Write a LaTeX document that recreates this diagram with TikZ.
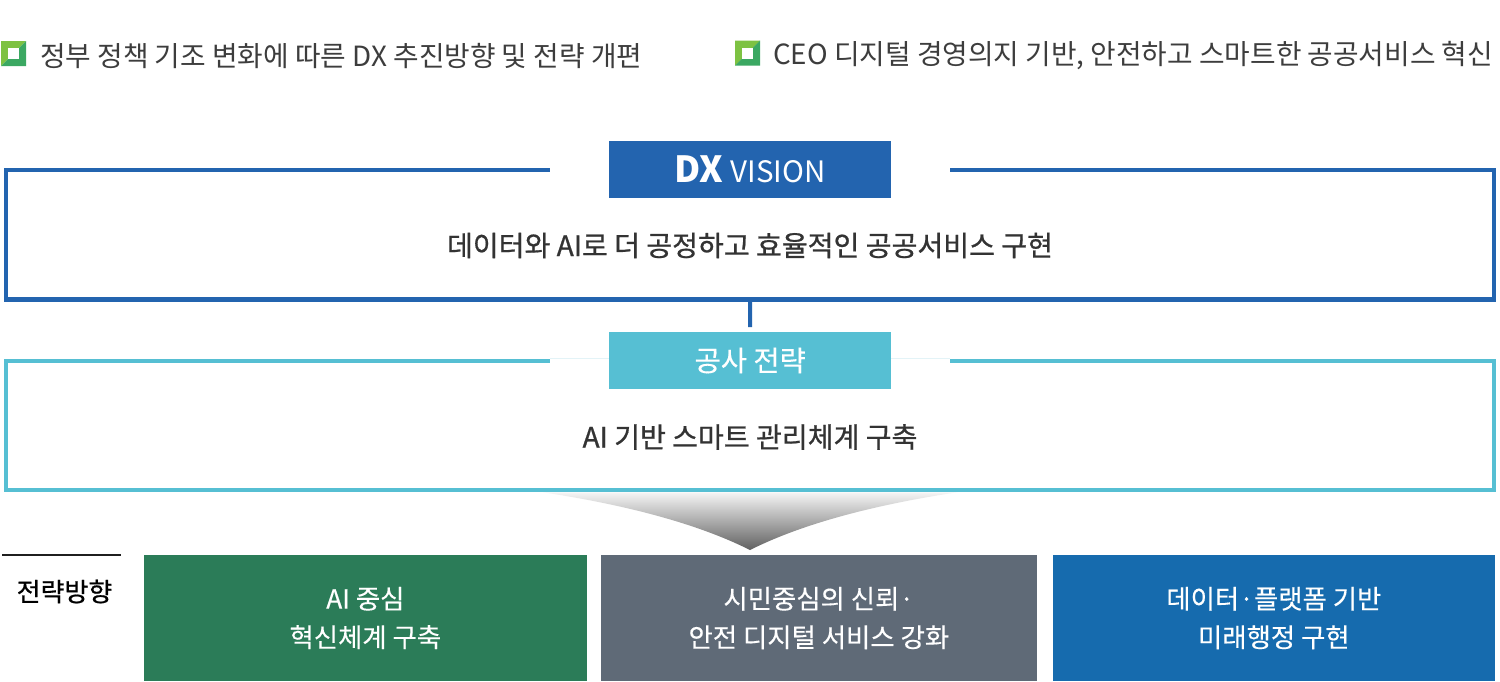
\documentclass[tikz,border=0pt]{standalone}
\usepackage{fontspec}
\setmainfont{Noto Sans CJK KR}
\newfontfamily\krmed[FakeBold=0.7]{Noto Sans CJK KR}
\newfontfamily\krsemi[FakeBold=0.3]{Noto Sans CJK KR}
\usetikzlibrary{calc}
\definecolor{dxblue}{HTML}{2364AF}
\definecolor{cyanl}{HTML}{56BFD3}
\definecolor{cyanfaint}{HTML}{E3F3F7}
\definecolor{hdrgray}{HTML}{3D3D3D}
\definecolor{txtdark}{HTML}{333333}
\definecolor{boxgreen}{HTML}{2B7C58}
\definecolor{boxgray}{HTML}{5F6A77}
\definecolor{boxblue}{HTML}{166BAE}
\definecolor{limeg}{HTML}{7DC242}
\definecolor{leafg}{HTML}{3BA862}
\tikzset{
  bul/.pic={
    \fill[limeg] (-12.5,-12.5) -- (12.5,-12.5) -- (-12.5,12.5) -- cycle;
    \fill[leafg] (12.5,-12.5) -- (12.5,12.5) -- (-12.5,12.5) -- cycle;
    \fill[white] (-5.5,-5.5) rectangle (5.5,5.5);
  },
  hdr/.style={anchor=west, inner sep=0pt, text=hdrgray, font=\fontsize{27.8}{32}\selectfont},
  framebox/.style={inner sep=0pt, minimum width=1488pt},
  titlebox/.style={inner sep=0pt, minimum width=281.7pt, minimum height=57.4pt, text=white},
  frametext/.style={inner sep=0pt, text=txtdark, font=\krmed\fontsize{28.1}{32}\selectfont},
  dirbox/.style={inner sep=0pt, minimum height=126pt, text=white, align=center,
    font=\krsemi\fontsize{26.4}{38.5}\selectfont},
  thickline/.style={line width=4.5pt, line join=miter},
}
\begin{document}
\begin{tikzpicture}[x=1pt,y=-1pt]
\useasboundingbox[fill=white] (0,0) rectangle (1500,681);

% header bullets
\pic at (13.5,53.5) {bul};
\node[hdr] (h1) at (40,56) {정부 정책 기조 변화에 따른 DX 추진방향 및 전략 개편};
\pic at (747.5,53) {bul};
\node[hdr] (h2) at (773,56) {CEO 디지털 경영의지 기반, 안전하고 스마트한 공공서비스 혁신};

% frame 1 (vision)
\node[framebox, minimum height=129.5pt] (f1) at (750,234.75) {};
\draw[thickline, dxblue] ($(f1.north west)+(544,0)$) -- (f1.north west) -- (f1.south west)
  -- (f1.south east) -- (f1.north east) -- ($(f1.north east)+(-544,0)$);
\node[titlebox, fill=dxblue] (vision) at (750.2,169.7)
  {{\bfseries\fontsize{36}{36}\selectfont DX}\hspace{7pt}{\fontsize{29.5}{29.5}\selectfont VISION}};
\node[frametext] (vt) at (750,245.5) {데이터와 AI로 더 공정하고 효율적인 공공서비스 구현};

% frame 2 (strategy)
\node[framebox, minimum height=129pt] (f2) at (750,425.5) {};
\draw[cyanfaint, line width=1pt] (550,358.6) -- (950,358.6);
\draw[thickline, cyanl] ($(f2.north west)+(544,0)$) -- (f2.north west) -- (f2.south west)
  -- (f2.south east) -- (f2.north east) -- ($(f2.north east)+(-544,0)$);
\node[titlebox, fill=cyanl, font=\krsemi\fontsize{28.5}{32}\selectfont] (strat) at (750.2,360.5) {공사 전략};
\node[frametext] (st) at (750,437) {AI 기반 스마트 관리체계 구축};

% connector
\draw[dxblue, line width=4pt, shorten >=4.5pt] (f1.south) -- (strat.north);

% funnel
\coordinate (fl) at (543,492.3);
\coordinate (fr) at (957,492.3);
\coordinate (tip) at (750,550);
\shade[top color=black!4, bottom color=black!62]
  (fl) .. controls (660,510) and (720,535) .. (tip)
       .. controls (780,535) and (840,510) .. (fr) -- cycle;

% direction label
\draw[black!88, line width=2pt] (2,555) -- (120.7,555);
\node[inner sep=0pt, text=black, font=\krmed\fontsize{26}{30}\selectfont] (lbl) at (64.5,591.5) {전략방향};

% direction boxes
\node[dirbox, fill=boxgreen, minimum width=442.7pt] (d1) at (365.35,618) {AI 중심\\혁신체계 구축};
\node[dirbox, fill=boxgray, minimum width=435.7pt] (d2) at (818.85,618) {시민중심의 신뢰·\\안전 디지털 서비스 강화};
\node[dirbox, fill=boxblue, minimum width=442.3pt] (d3) at (1273.85,618) {데이터·플랫폼 기반\\미래행정 구현};
\end{tikzpicture}
\end{document}
